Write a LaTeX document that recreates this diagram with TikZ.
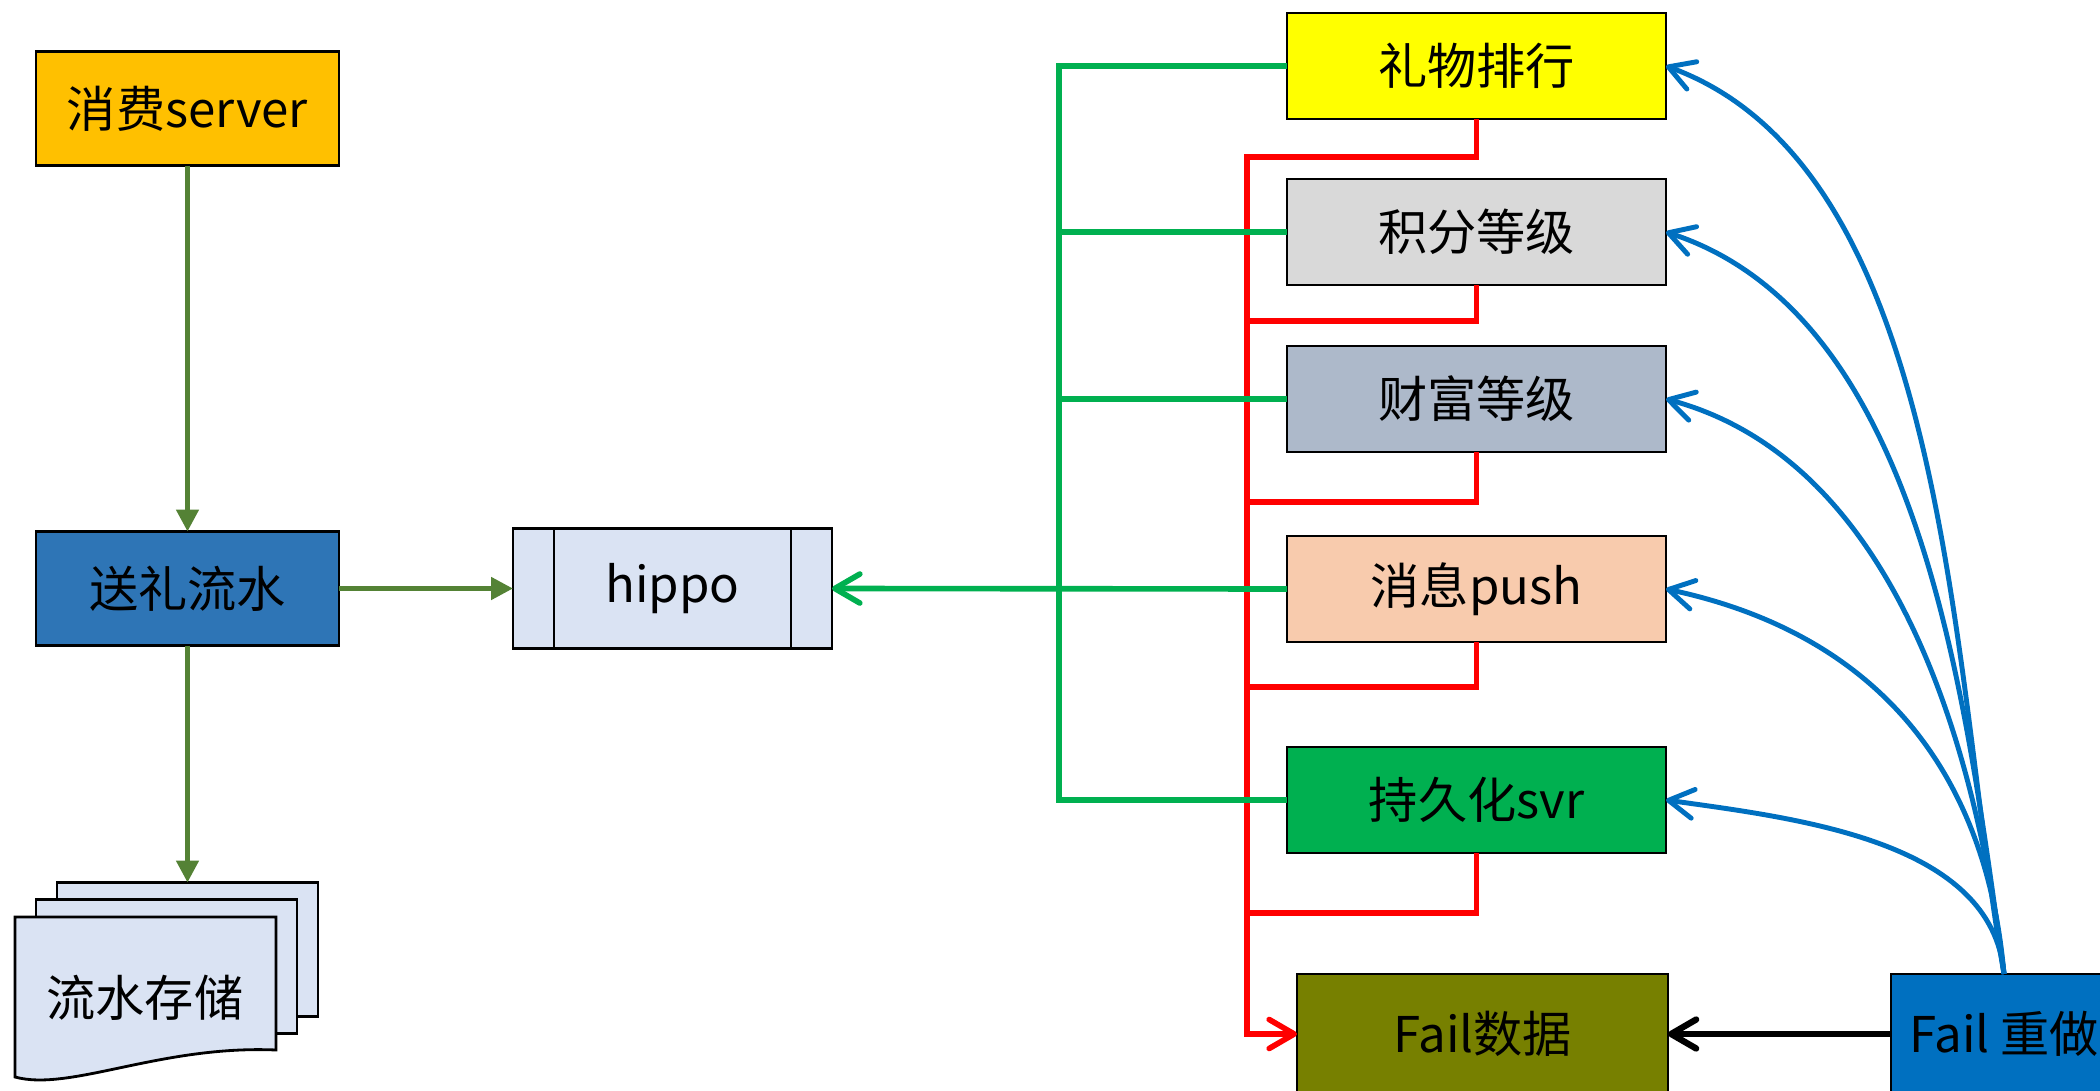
\documentclass[tikz,border=0pt]{standalone}
\usepackage{fontspec}
\setmainfont{Noto Sans CJK SC}
\usetikzlibrary{positioning,arrows.meta}

\definecolor{consume}{HTML}{FFC000}
\definecolor{flowblue}{HTML}{2E75B6}
\definecolor{paleblue}{HTML}{DAE3F3}
\definecolor{giftyellow}{HTML}{FFFF00}
\definecolor{scoregray}{HTML}{D9D9D9}
\definecolor{wealthblue}{HTML}{ADB9CA}
\definecolor{pushpeach}{HTML}{F8CBAD}
\definecolor{persistgreen}{HTML}{00B050}
\definecolor{failolive}{HTML}{778000}
\definecolor{redoblue}{HTML}{0070C0}
\definecolor{darkgreen}{HTML}{548235}

\begin{document}
\begin{tikzpicture}
[box/.style={draw,line width=0.8pt,inner sep=0pt,outer sep=0pt,minimum width=3.03cm,minimum height=1.14cm,font=\fontsize{14}{17}\selectfont},
 svc/.style={box,minimum width=3.79cm,minimum height=1.06cm},
 sheet/.style={draw,line width=0.8pt,outer sep=0pt,fill=paleblue,minimum width=2.61cm,minimum height=1.34cm},
 queue/.style={box,path picture={ \draw[line width=0.8pt] ([xshift=0.41cm]path picture bounding
      box.south west) -- ([xshift=0.41cm]path picture bounding box.north west) ([xshift=-0.41cm]path
      picture bounding box.south east) -- ([xshift=-0.41cm]path picture bounding
      box.north east); }},
 dgarrow/.style={darkgreen,line width=1.4pt,-{Triangle[length=2.2mm,width=2.2mm]}},
 barb/.style={-{Straight Barb[round,length=2.5mm,width=2.9mm]}},
 gline/.style={persistgreen,line width=1.6pt},
 rline/.style={red,line width=1.6pt},
 bline/.style={redoblue,line width=1.4pt,barb},
 kline/.style={black,line width=1.8pt,barb}]
\useasboundingbox (0,0) rectangle (21,-10.91);
\node[box,fill=consume] (consume) at (1.875,-1.085) {消费server};
\node[box,fill=flowblue, below=3.66cm of consume] (flow) {送礼流水};
\node[queue,fill=paleblue,minimum width=3.19cm,minimum height=1.2cm, right=1.74cm of flow] (hippo) {hippo};
\node[sheet, below=2.37cm of flow] (back) {};
\node[sheet] (mid) at ([xshift=-0.21cm,yshift=-0.17cm]back) {};
\draw[line width=0.8pt,fill=paleblue] (0.15,-9.17) -- (2.76,-9.17) -- (2.76,-10.50)
  .. controls (1.6,-10.45) and (0.7,-10.92) .. (0.15,-10.77) -- cycle;
\node[font=\fontsize{14}{17}\selectfont] (store) at (1.45,-9.98) {流水存储};
\node[svc,fill=giftyellow] (gift) at (14.765,-0.66) {礼物排行};
\node[svc,fill=scoregray, below=0.60cm of gift] (score) {积分等级};
\node[svc,fill=wealthblue, below=0.61cm of score] (wealth) {财富等级};
\node[svc,fill=pushpeach, below=0.84cm of wealth] (push) {消息push};
\node[svc,fill=persistgreen, below=1.05cm of push] (persist) {持久化svr};
\node[svc,fill=failolive,minimum width=3.71cm,minimum height=1.2cm, below=1.21cm of persist,xshift=0.06cm] (faildata) {Fail数据};
\node[svc,fill=redoblue,minimum width=2.26cm,minimum height=1.2cm, right=2.23cm of faildata] (redo) {Fail 重做};
\coordinate (gbus) at (10.59,0);
\coordinate (rbus) at (12.47,0);
\draw[dgarrow] (consume) -- (flow);
\draw[dgarrow] (flow) -- (hippo);
\draw[dgarrow] (flow) -- (back);
\draw[rline,barb] (gift.south) |- ([yshift=-0.38cm]gift.south -| rbus) -- (faildata.west -| rbus) -- (faildata.west);
\draw[rline] (score.south) |- ([yshift=-0.36cm]score.south -| rbus);
\draw[rline] (wealth.south) |- ([yshift=-0.50cm]wealth.south -| rbus);
\draw[rline] (push.south) |- ([yshift=-0.45cm]push.south -| rbus);
\draw[rline] (persist.south) |- ([yshift=-0.60cm]persist.south -| rbus);
\draw[gline] (gift.west) -- (gift.west -| gbus) -- (persist.west -| gbus) -- (persist.west);
\draw[gline] (score.west) -- (score.west -| gbus);
\draw[gline] (wealth.west) -- (wealth.west -| gbus);
\draw[gline,barb] (push.west) -- (hippo.east);
\draw[bline] (redo.north) to[out=100,in=-20,looseness=0.8] (gift.east);
\draw[bline] (redo.north) to[out=98,in=-18,looseness=0.85] (score.east);
\draw[bline] (redo.north) to[out=97,in=-15,looseness=0.9] (wealth.east);
\draw[bline] (redo.north) to[out=95,in=-12,looseness=1.05] (push.east);
\draw[bline] (redo.north) to[out=95,in=-8,looseness=0.9] (persist.east);
\draw[kline] (redo) -- (faildata);
\end{tikzpicture}
\end{document}
